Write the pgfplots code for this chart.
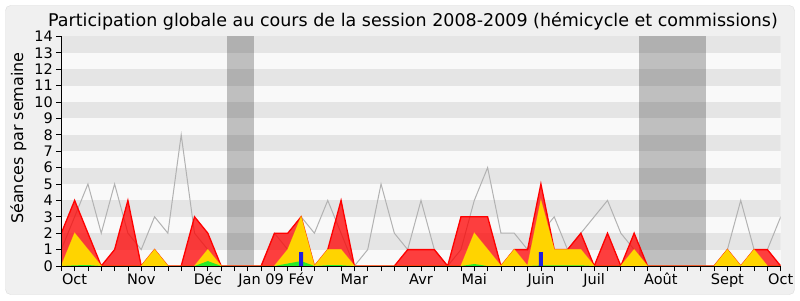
\documentclass[border=0pt]{standalone}
\usepackage{pgfplots}
\pgfplotsset{compat=1.18}
\usepackage{pgfplotstable}
\usepackage{fontspec}
\setmainfont{DejaVu Sans}
\definecolor{bgc}{RGB}{240,240,240}
\definecolor{bordc}{RGB}{220,220,220}
\definecolor{stripeD}{RGB}{229,229,229}
\definecolor{stripeL}{RGB}{249,249,249}
\definecolor{grayline}{RGB}{178,178,178}
\definecolor{redfill}{RGB}{255,0,0}
\definecolor{yelfill}{RGB}{255,212,0}
\definecolor{yelline}{RGB}{255,225,0}
\definecolor{grnfill}{RGB}{40,235,40}
\definecolor{grnline}{RGB}{0,170,0}
\definecolor{bluefill}{RGB}{30,30,225}
\definecolor{baseline}{RGB}{100,25,15}

\pgfplotstableread{
i red yel grn gray
0 2 0 0 1
1 4 2 0.04 3
2 2 1 0.06 5
3 0 0 0 2
4 1 0 0 5
5 4 0 0 2
6 0 0 0 1
7 1 1 0 3
8 0 0 0 2
9 0 0 0 8
10 3 0 0 2
11 2 1 0.3 1
12 0 0 0 0
13 0 0 0 0
14 0 0 0 0
15 0 0 0 0
16 2 0 0 2
17 2 1 0.15 1
18 3 3 0.3 3
19 0 0 0 2
20 1 1 0.05 4
21 4 1 0.05 2
22 0 0 0 0
23 0 0 0 1
24 0 0 0 5
25 0 0 0 2
26 1 0 0 1
27 1 0 0 4
28 1 0 0 1
29 0 0 0 0
30 3 0 0 1
31 3 2 0.12 4
32 3 1 0 6
33 0 0 0 2
34 1 1 0 2
35 1 0 0 1
36 5 4 0.04 2
37 1 1 0.04 3
38 1 1 0.04 1
39 2 1 0.04 2
40 0 0 0 3
41 2 0 0 4
42 0 0 0 2
43 2 1 0 1
44 0 0 0 0
45 0 0 0 0
46 0 0 0 0
47 0 0 0 0
48 0 0 0 0
49 0 0 0 0
50 1 1 0 1
51 0 0 0 4
52 1 1 0 1
53 1 0 0 1
54 0 0 0 3
}\data

\begin{document}
\begin{tikzpicture}
\useasboundingbox (0,0) rectangle (800pt,300pt);
\fill[white] (0,0) rectangle (800pt,300pt);
\draw[draw=bordc, fill=bgc, rounded corners=5pt] (5.5pt,5.5pt) rectangle (794.5pt,294.5pt);
\node[anchor=base, font=\fontsize{17.5}{20}\selectfont] at (413pt,273.3pt)
  {Participation globale au cours de la session 2008-2009 (hémicycle et commissions)};
\node[rotate=90, font=\fontsize{16}{18}\selectfont] at (18.5pt,162pt) {Séances par semaine};
\begin{axis}[
  at={(61.3pt,34pt)}, anchor=south west,
  scale only axis, width=719.4pt, height=229.6pt,
  xmin=0, xmax=54, ymin=0, ymax=14,
  axis x line=bottom, axis y line=left,
  axis on top=true,
  x axis line style={baseline, line width=1pt, -},
  y axis line style={black, line width=0.8pt, -},
  axis background/.style={fill=stripeL},
  xtick={0,...,54}, xticklabels={},
  extra x ticks={1,6,11,15,18,22,27,31,36,40,45,50,54},
  extra x tick labels={Oct,Nov,Déc,Jan 09,Fév,Mar,Avr,Mai,Juin,Juil,Août,Sept,Oct},
  extra x tick style={xticklabel style={anchor=base, yshift=-13pt}},
  xticklabel style={font=\fontsize{14.5}{16}\selectfont},
  ytick={0,...,14},
  yticklabel style={font=\fontsize{14.5}{16}\selectfont},
  /pgf/number format/assume math mode=true,
  tick align=outside, major tick length=5pt,
  tick style={black, line width=0.7pt},
  clip=true,
]
\fill[stripeD] (axis cs:0,1) rectangle (axis cs:54,2);
\fill[stripeD] (axis cs:0,3) rectangle (axis cs:54,4);
\fill[stripeD] (axis cs:0,5) rectangle (axis cs:54,6);
\fill[stripeD] (axis cs:0,7) rectangle (axis cs:54,8);
\fill[stripeD] (axis cs:0,9) rectangle (axis cs:54,10);
\fill[stripeD] (axis cs:0,11) rectangle (axis cs:54,12);
\fill[stripeD] (axis cs:0,13) rectangle (axis cs:54,14);
\fill[black, opacity=0.23] (axis cs:12.45,0) rectangle (axis cs:14.5,14);
\fill[black, opacity=0.23] (axis cs:43.4,0) rectangle (axis cs:48.4,14);
\addplot[grayline, line width=1pt, mark=none] table[x=i, y=gray] {\data};
\addplot[draw=redfill, line width=1.3pt, fill=redfill, fill opacity=0.75, mark=none] table[x=i, y=red] {\data} \closedcycle;
\addplot[draw=yelline, draw opacity=0.6, line width=1pt, fill=yelfill, mark=none] table[x=i, y=yel] {\data} \closedcycle;
\addplot[draw=none, fill=grnfill, mark=none] table[x=i, y=grn] {\data} \closedcycle;
\addplot[ybar, bar width=4pt, fill=bluefill, draw=none] coordinates {(18,0.85) (36,0.85)};
\end{axis}
\end{tikzpicture}
\end{document}
